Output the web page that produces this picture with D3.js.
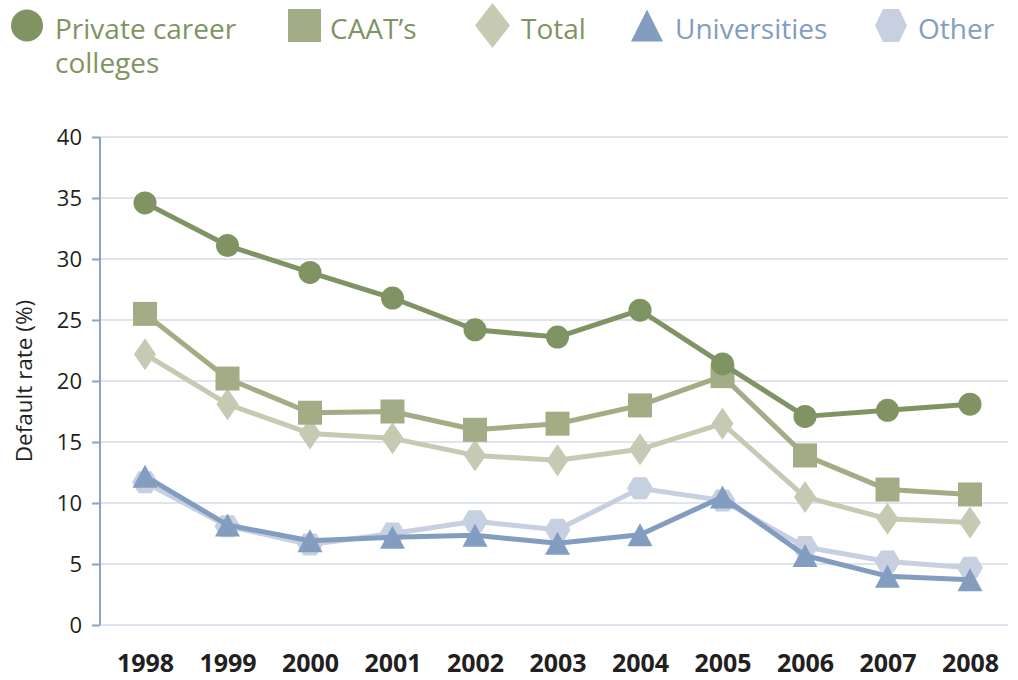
<!DOCTYPE html>
<html><head><meta charset="utf-8">
<script src="https://cdn.jsdelivr.net/npm/d3@7"></script>
<style>html,body{margin:0;padding:0;background:#fff;}svg{display:block;font-family:"Open Sans",sans-serif;}</style>
</head><body><svg id="c" width="1018" height="680"></svg>
<script>
const years = ["1998","1999","2000","2001","2002","2003","2004","2005","2006","2007","2008"];
const privateCareer = [34.6,31.1,28.9,26.8,24.2,23.6,25.8,21.4,17.1,17.6,18.1];
const caats = [25.5,20.2,17.4,17.5,16.0,16.5,18.0,20.4,13.9,11.1,10.7];
const total = [22.2,18.1,15.7,15.3,13.9,13.5,14.4,16.5,10.5,8.7,8.4];
const universities = [12.2,8.2,6.9,7.2,7.35,6.7,7.4,10.5,5.7,4.0,3.7];
const other = [11.7,8.1,6.6,7.5,8.5,7.8,11.2,10.2,6.4,5.2,4.7];
const yTicks = [0,5,10,15,20,25,30,35,40];

const series = [
  {name:"Other", values:other, color:"#c6d0e0", shape:"hex", textColor:"#829dc0"},
  {name:"Universities", values:universities, color:"#829dc0", shape:"tri", textColor:"#829dc0"},
  {name:"Total", values:total, color:"#c6cab3", shape:"dia", textColor:"#7f9462"},
  {name:"CAAT\u2019s", values:caats, color:"#a3ad85", shape:"sq", textColor:"#7f9462"},
  {name:"Private career", values:privateCareer, color:"#7f9462", shape:"circ", textColor:"#7f9462"}
];

const svg = d3.select("#c");
const x = d3.scalePoint().domain(years).range([145,970]);
const y = d3.scaleLinear().domain([0,40]).range([625,137]);

// gridlines
svg.append("g").selectAll("line").data(yTicks).join("line")
  .attr("x1",100).attr("x2",1008).attr("y1",d=>y(d)).attr("y2",d=>y(d))
  .attr("stroke","#dfe4ee").attr("stroke-width",2);

// y axis
const yAxis = d3.axisLeft(y).tickValues(yTicks).tickSize(8).tickPadding(10);
const ga = svg.append("g").attr("transform","translate(100,0)").call(yAxis);
ga.select(".domain").attr("stroke","#8aa3c6").attr("stroke-width",2).attr("d","M0,"+y(40)+"V"+y(0));
ga.selectAll(".tick line").attr("stroke","#8aa3c6").attr("stroke-width",2);
ga.selectAll(".tick text").attr("font-size",22).attr("fill","#231f20").attr("font-family","Open Sans").attr("dy","0.35em");

// x axis labels
const xAxis = d3.axisBottom(x).tickSize(0).tickPadding(0);
const gx = svg.append("g").attr("transform","translate(0,672)").call(xAxis);
gx.select(".domain").remove();
gx.selectAll(".tick text").attr("font-size",25).attr("font-weight","bold").attr("fill","#231f20").attr("font-family","Open Sans").attr("dy","0").attr("y",0);

// y label
svg.append("text").attr("transform","translate(32,381) rotate(-90)").attr("text-anchor","middle")
  .attr("font-size",22.5).attr("fill","#231f20").text("Default rate (%)");

function shapePath(shape, w, h){
  const a=w/2,b=h/2;
  switch(shape){
    case "sq": return `M${-a},${-b}H${a}V${b}H${-a}Z`;
    case "dia": return `M0,${-b}L${a},0L0,${b}L${-a},0Z`;
    case "tri": return `M0,${-b}L${a},${b}L${-a},${b}Z`;
    case "hex": return `M${-a},0L${-a/2},${-b}L${a/2},${-b}L${a},0L${a/2},${b}L${-a/2},${b}Z`;
  }
}
const markerSize = {circ:[23,23], sq:[24,24], dia:[22,32], tri:[25,23], hex:[26,22]};
const legendSize = {circ:[32,32], sq:[33,33], dia:[35,45], tri:[32,32], hex:[32,33]};

const line = d3.line().x((d,i)=>x(years[i])).y(d=>y(d));
series.forEach(s=>{
  const g = svg.append("g");
  g.append("path").datum(s.values).attr("d",line).attr("fill","none").attr("stroke",s.color).attr("stroke-width",5).attr("stroke-linejoin","round");
  const [w,h] = markerSize[s.shape];
  if(s.shape==="circ"){
    g.selectAll("circle").data(s.values).join("circle").attr("cx",(d,i)=>x(years[i])).attr("cy",d=>y(d)).attr("r",w/2).attr("fill",s.color);
  } else {
    g.selectAll("path.m").data(s.values).join("path").attr("class","m")
      .attr("transform",(d,i)=>`translate(${x(years[i])},${y(d)})`).attr("d",shapePath(s.shape,w,h)).attr("fill",s.color);
  }
});

// legend
const legend = [
  {s:series[4], mx:27, tx:55},
  {s:series[3], mx:304.5, tx:330},
  {s:series[2], mx:492.5, tx:521},
  {s:series[1], mx:647, tx:675},
  {s:series[0], mx:891, tx:918}
];
const lg = svg.append("g");
legend.forEach(l=>{
  const s=l.s, [w,h]=legendSize[s.shape];
  if(s.shape==="circ") lg.append("circle").attr("cx",l.mx).attr("cy",25.5).attr("r",w/2).attr("fill",s.color);
  else lg.append("path").attr("transform",`translate(${l.mx},25.5)`).attr("d",shapePath(s.shape,w,h)).attr("fill",s.color);
  if(s.shape==="circ"){
    lg.append("text").attr("x",l.tx).attr("y",39).attr("font-size",28).attr("fill",s.textColor).text("Private career");
    lg.append("text").attr("x",l.tx).attr("y",73).attr("font-size",28).attr("fill",s.textColor).text("colleges");
  } else lg.append("text").attr("x",l.tx).attr("y",39).attr("font-size",28).attr("fill",s.textColor).text(s.name);
});
</script></body></html>
